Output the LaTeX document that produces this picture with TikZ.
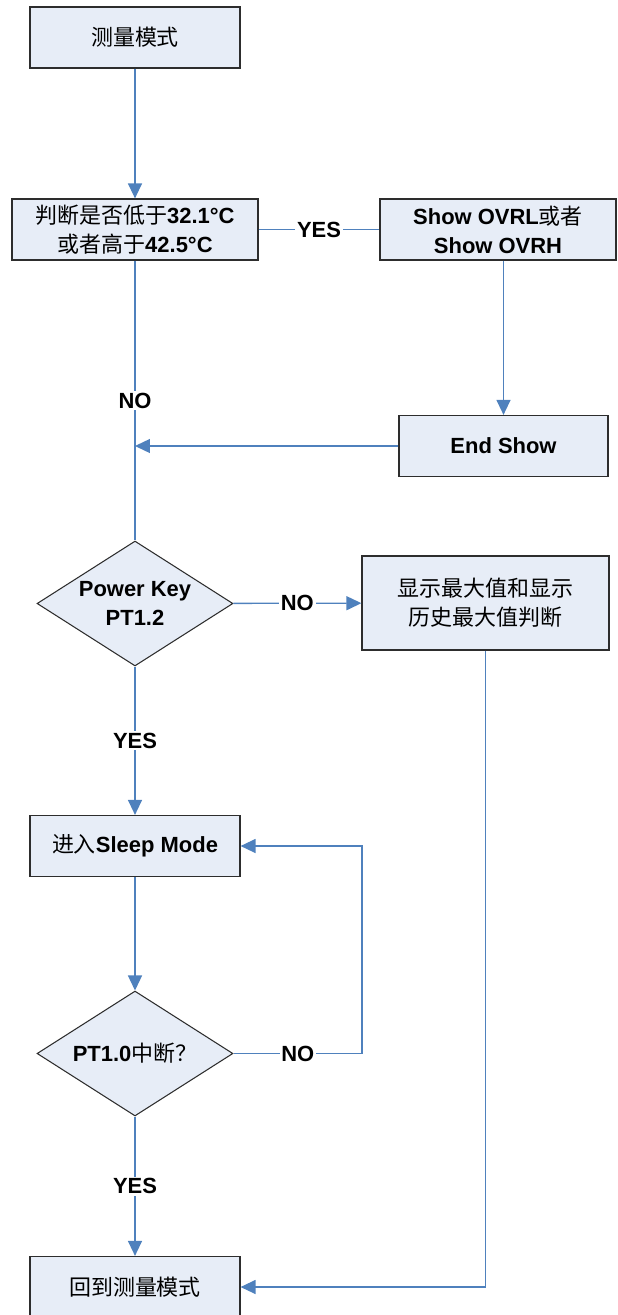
\documentclass[tikz,border=0pt]{standalone}
\usepackage{fontspec}
\setmainfont{Liberation Sans}
\newfontfamily\cjk{Noto Sans CJK SC}
\usetikzlibrary{shapes.geometric,arrows.meta}
\definecolor{boxfill}{RGB}{231,237,247}
\definecolor{flowblue}{RGB}{79,129,189}
\definecolor{boxline}{RGB}{45,45,45}
\newcommand{\zhtxt}[1]{{\cjk\mdseries #1}}

\begin{document}
\begin{tikzpicture}[x=0.02cm,y=-0.02cm]
            \tikzset{
            fc box/.style={rectangle,draw=boxline,fill=boxfill,line width=0.7pt,inner sep=0,align=center,font=\fontsize{12.5}{16.5}\selectfont\bfseries},
            fc dia/.style={diamond,draw=boxline,fill=boxfill,line width=0.6pt,inner sep=0,shape aspect=1.57,minimum width=3.92cm,minimum height=2.5cm,align=center,font=\fontsize{12.5}{16.5}\selectfont\bfseries},
            fc edge/.style={draw=flowblue,line width=0.75pt},
            fc tip/.style={-{Triangle[length=0.3cm,width=0.28cm,fill=flowblue]}},
            fc label/.style={fill=white,text=black,inner sep=1pt,font=\fontsize{12.5}{15}\selectfont\bfseries}
            }
            \useasboundingbox (0,0) rectangle (618,1315);
            \node[fc box,minimum width=4.2cm,minimum height=1.22cm] (b1) at (135, 37.5) {\zhtxt{测量模式}};
            \node[fc box,minimum width=4.92cm,minimum height=1.22cm] (b2) at (135, 229.5) {\zhtxt{判断是否低于}32.1°C\\\zhtxt{或者高于}42.5°C};
            \node[fc box,minimum width=4.72cm,minimum height=1.22cm] (b3) at (498, 229.5) {Show OVRL\zhtxt{或者}\\Show OVRH};
            \node[fc box,minimum width=4.18cm,minimum height=1.22cm] (b4) at (503.5, 446) {End Show};
            \node[fc dia] (d1) at (135, 603.5) {Power Key\\PT1.2};
            \node[fc box,minimum width=4.94cm,minimum height=1.88cm] (b5) at (485.5, 603) {\zhtxt{显示最大值和显示}\\\zhtxt{历史最大值判断}};
            \node[fc box,minimum width=4.2cm,minimum height=1.22cm] (b6) at (135, 846) {\zhtxt{进入}Sleep Mode};
            \node[fc dia] (d2) at (135, 1053.5) {PT1.0\zhtxt{中断？}};
            \node[fc box,minimum width=4.2cm,minimum height=1.22cm] (b7) at (135, 1287) {\zhtxt{回到测量模式}};
            \coordinate (j1) at (135, 446);
            \coordinate (c1) at (362, 1053.5);

            \path
            (b1) edge[fc edge,fc tip] (b2)
            (b2) edge[fc edge] node[fc label] {YES} (b3)
            (b4.north |- b3.south) edge[fc edge,fc tip] (b4)
            (b2) edge[fc edge] node[fc label] {NO} (d1)
            (b4) edge[fc edge,fc tip] (j1)
            (d1) edge[fc edge,fc tip] node[fc label] {NO} (b5)
            (d1) edge[fc edge,fc tip] node[fc label] {YES} (b6)
            (b6) edge[fc edge,fc tip] (d2)
            (d2) edge[fc edge,fc tip] node[fc label] {YES} (b7)
            ;
            \draw[fc edge,fc tip] (d2) -- node[fc label] {NO} (c1) |- (b6);
            \draw[fc edge,fc tip] (b5) |- (b7);
        \end{tikzpicture}
\end{document}
